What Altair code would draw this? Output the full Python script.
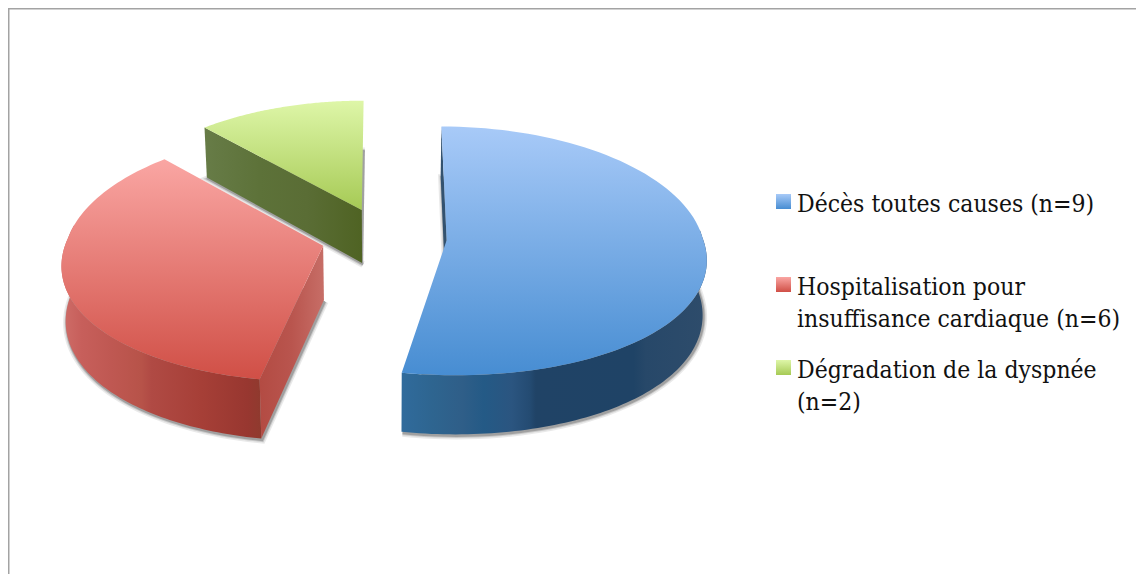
import numpy as np
import pandas as pd
import altair as alt

# ---- data
categories = ["Décès toutes causes (n=9)", "Hospitalisation pour insuffisance cardiaque (n=6)", "Dégradation de la dyspnée (n=2)"]
values = [9, 6, 2]
legend_lines = [
    ["Décès toutes causes (n=9)"],
    ["Hospitalisation pour", "insuffisance cardiaque (n=6)"],
    ["Dégradation de la dyspnée", "(n=2)"],
]
top_colors = [("#a8caf8", "#478dd2"), ("#faa6a3", "#d04f46"), ("#def6a8", "#a6ca55")]
legend_colors = [("#a8caf8", "#478dd2"), ("#faa6a3", "#d04f46"), ("#def6a8", "#a6ca55")]

# ---- page-sized scales: the plot covers the page area inside the 8px margin
W, H = 1128, 566
OX, OY = 8, 8
xs = alt.Scale(domain=[OX, OX + W], range=[0, W], nice=False, zero=False)
ys = alt.Scale(domain=[OY, OY + H], range=[0, H], nice=False, zero=False)

# ---- perspective pie model
CX, CY, A, B, KX_FRONT, KX_REAR, KY, EXPLODE, DEPTH, SHRINK = 384, 237.5, 256, 123, 0.13, 0.09, 0.085, 0.245, 54, 0.987
total = sum(values)
edges = np.cumsum([0] + values) / total * 360.0


def project(X, Y, low=False):
    kx = np.where(np.asarray(Y) > 0, KX_REAR, KX_FRONT)
    x = CX + A * X / (1 + kx * Y)
    wy = 1 + KY * Y
    y = CY - B * Y / wy
    if low:
        x = CX + (x - CX) * SHRINK
        y = y + DEPTH / wy
    return x, y


def proj(ax, ay, t, low=False):
    t = np.radians(t)
    return project(ax + np.sin(t), ay + np.cos(t), low)


slices = []
for i in range(3):
    t0, t1 = edges[i], edges[i + 1]
    mid = np.radians((t0 + t1) / 2)
    slices.append(dict(t0=t0, t1=t1, ax=EXPLODE * np.sin(mid), ay=EXPLODE * np.cos(mid)))


def arc(s, a, b, low=False):
    ts = np.linspace(a, b, 90)
    return proj(s["ax"], s["ay"], ts, low)


def frame(x, y):
    return pd.DataFrame({"x": x, "y": y, "i": np.arange(len(x))})


def top_face(s):
    x, y = arc(s, s["t0"], s["t1"])
    ax, ay = project(s["ax"], s["ay"])
    return frame(np.r_[ax, x], np.r_[ay, y])


def bottom_face(s):
    x, y = arc(s, s["t0"], s["t1"], True)
    ax, ay = project(s["ax"], s["ay"], True)
    return frame(np.r_[ax, x], np.r_[ay, y])


def rim_wall(s, a, b):
    x1, y1 = arc(s, a, b)
    x2, y2 = arc(s, a, b, True)
    return frame(np.r_[x1, x2[::-1]], np.r_[y1, y2[::-1]])


def cut_wall(s, t):
    ax, ay = project(s["ax"], s["ay"])
    bx, by = project(s["ax"], s["ay"], True)
    x1, y1 = proj(s["ax"], s["ay"], t)
    x2, y2 = proj(s["ax"], s["ay"], t, True)
    return frame(np.array([ax, x1, x2, bx]), np.array([ay, y1, y2, by]))


def grad(stops, vertical=False):
    st = [alt.GradientStop(color=c, offset=o) for o, c in stops]
    return alt.LinearGradient(gradient="linear", stops=st, x1=0, y1=0,
                              x2=0 if vertical else 1, y2=1 if vertical else 0)


def poly(df, fill, stroke=None, sw=0, opacity=1.0):
    kw = dict(fill=fill, strokeWidth=sw, opacity=opacity, interpolate="linear", clip=False)
    kw["stroke"] = stroke if stroke else "transparent"
    return alt.Chart(df).mark_line(**kw).encode(
        x=alt.X("x:Q", scale=xs, axis=None),
        y=alt.Y("y:Q", scale=ys, axis=None),
        order="i:Q",
    )


layers = []

# shadows
for s in slices:
    b = bottom_face(s)
    b2 = b.assign(x=b.x + 1, y=b.y + 1.5)
    layers.append(poly(b2, "#555555", "#555555", 7, 0.12))
    layers.append(poly(b2, "#555555", "#555555", 4, 0.20))
    layers.append(poly(b2, "#555555", "#555555", 2, 0.35))

# walls
blue, red, green = slices
blue_wall = grad([(0, "#306b9c"), (.1, "#2e6590"), (.2, "#2f5e88"), (.27, "#245a86"),
                  (.36, "#2b5580"), (.42, "#244b72"), (.44, "#204366"), (.76, "#1f4366"),
                  (.8, "#274869"), (1, "#2e4c6b")])
red_wall = grad([(0, "#cf6e69"), (.1, "#c75f5b"), (.25, "#bf5852"), (.4, "#b75349"),
                 (.45, "#b04a44"), (.7, "#a63f37"), (.93, "#983730"), (1, "#8f3a2e")])
green_wall = grad([(0, "#677c47"), (.35, "#5d7239"), (.65, "#5a6d35"), (1, "#4f6323")])
red_cut = grad([(0, "#b34b43"), (.5, "#b9554e"), (1, "#c76e67")])

layers.append(poly(cut_wall(blue, blue["t0"]), "#33526f"))
layers.append(poly(rim_wall(blue, 85, blue["t1"]), blue_wall))
layers.append(poly(cut_wall(green, green["t0"]), green_wall))
layers.append(poly(rim_wall(red, red["t0"], 280), red_wall))
layers.append(poly(cut_wall(red, red["t0"]), red_cut))

# top faces
for s, (c1, c2) in zip(slices, top_colors):
    layers.append(poly(top_face(s), grad([(0, c1), (1, c2)], vertical=True)))

# frame
frame_color = "#a3a3a3"
layers.append(alt.Chart(pd.DataFrame({"a": [0]})).mark_rule(color=frame_color, strokeWidth=2).encode(
    x=alt.value(0.5), y=alt.value(0), y2=alt.value(H)))
layers.append(alt.Chart(pd.DataFrame({"a": [0]})).mark_rule(color=frame_color, strokeWidth=2).encode(
    y=alt.value(0.5), x=alt.value(0), x2=alt.value(W)))

# legend
sq_y = [194, 277, 360]
for yy, (c1, c2) in zip(sq_y, legend_colors):
    d = pd.DataFrame({"x": [776], "x2": [791], "y": [yy], "y2": [yy + 15]})
    layers.append(alt.Chart(d).mark_rect(fill=grad([(0, c1), (1, c2)], vertical=True)).encode(
        x=alt.X("x:Q", scale=xs, axis=None), x2="x2:Q",
        y=alt.Y("y:Q", scale=ys, axis=None), y2="y2:Q"))

rows = []
base = [212, 295, 378]
for b, lines in zip(base, legend_lines):
    for j, l in enumerate(lines):
        rows.append({"x": 797, "y": b + 32 * j, "t": l})
layers.append(alt.Chart(pd.DataFrame(rows)).mark_text(
    align="left", baseline="alphabetic", font="DejaVu Serif Condensed", fontSize=24.5, color="#111111"
).encode(x=alt.X("x:Q", scale=xs, axis=None), y=alt.Y("y:Q", scale=ys, axis=None), text="t:N"))

chart = alt.layer(*layers).properties(
    width=W, height=H, padding=0, autosize=alt.AutoSizeParams(type="none"), background="white"
).configure_view(stroke=None)

chart.save("out.html", embed_options={"renderer": "svg", "actions": False})
